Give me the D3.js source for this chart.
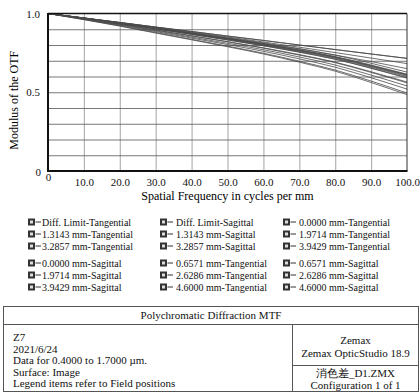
<!DOCTYPE html>
<html>
<head>
<meta charset="utf-8">
<script src="https://cdn.jsdelivr.net/npm/d3@7"></script>
<style>
  body { margin: 0; background: #fff; }
  svg text { font-family: "Liberation Serif", "DejaVu Serif", serif; }
  .grid-x line { stroke: #b4b4b4; stroke-width: 1.2; }
  .grid-y line { stroke: #555; stroke-width: 0.8; }
  .axis text { font-size: 11px; fill: #111; }
  .legend text { font-size: 10px; fill: #111; }
  .box text { font-size: 11px; fill: #111; }
</style>
</head>
<body>
<div id="chart"></div>
<script>
// spatial frequency samples (cycles per mm)
const freq = [0, 10, 20, 30, 40, 50, 60, 70, 80, 90, 100];
const xTicks = [0, 10, 20, 30, 40, 50, 60, 70, 80, 90, 100];
const yTicks = [0, 0.5, 1.0];

// MTF values
const diffLimitT = [1, .971, .943, .914, .886, .857, .829, .800, .771, .743, .715];
const diffLimitS = [1, .971, .943, .914, .886, .857, .829, .800, .771, .743, .715];
const f0000T = [1, .971, .940, .906, .873, .840, .805, .766, .723, .668, .610];
const f0000S = [1, .971, .940, .907, .874, .841, .806, .767, .724, .669, .612];
const f0657T = [1, .970, .939, .905, .872, .838, .802, .763, .720, .664, .605];
const f0657S = [1, .971, .940, .908, .875, .842, .807, .769, .727, .673, .615];
const f1314T = [1, .969, .937, .902, .868, .833, .796, .756, .711, .654, .593];
const f1314S = [1, .972, .942, .911, .879, .847, .814, .777, .736, .684, .628];
const f1971T = [1, .967, .933, .896, .859, .822, .782, .739, .691, .630, .565];
const f1971S = [1, .971, .940, .908, .876, .843, .810, .775, .736, .695, .650];
const f2629T = [1, .966, .929, .890, .850, .811, .770, .724, .673, .609, .540];
const f2629S = [1, .972, .943, .913, .882, .851, .819, .786, .752, .717, .682];
const f3286T = [1, .964, .926, .885, .844, .803, .760, .712, .659, .592, .520];
const f3286S = [1, .970, .938, .904, .870, .836, .800, .760, .716, .660, .600];
const f3943T = [1, .962, .922, .879, .836, .793, .748, .697, .641, .571, .495];
const f3943S = [1, .969, .936, .902, .867, .832, .795, .754, .709, .652, .590];
const f4600T = [1, .961, .920, .876, .833, .789, .743, .691, .634, .562, .485];
const f4600S = [1, .967, .932, .894, .857, .820, .780, .736, .688, .626, .560];

const seriesNames = [
  'Diff. Limit-Tangential', 'Diff. Limit-Sagittal', '0.0000 mm-Tangential',
  '1.3143 mm-Tangential', '1.3143 mm-Sagittal', '1.9714 mm-Tangential',
  '3.2857 mm-Tangential', '3.2857 mm-Sagittal', '3.9429 mm-Tangential',
  '0.0000 mm-Sagittal', '0.6571 mm-Tangential', '0.6571 mm-Sagittal',
  '1.9714 mm-Sagittal', '2.6286 mm-Tangential', '2.6286 mm-Sagittal',
  '3.9429 mm-Sagittal', '4.6000 mm-Tangential', '4.6000 mm-Sagittal'
];
const seriesValues = [
  diffLimitT, diffLimitS, f0000T,
  f1314T, f1314S, f1971T,
  f3286T, f3286S, f3943T,
  f0000S, f0657T, f0657S,
  f1971S, f2629T, f2629S,
  f3943S, f4600T, f4600S
];

const infoLeft = ['Z7', '2021/6/24', 'Data for 0.4000 to 1.7000 \u00b5m.', 'Surface: Image', 'Legend items refer to Field positions'];
const infoRightTop = ['Zemax', 'Zemax OpticStudio 18.9'];
const infoRightBottom = ['\u6d88\u8272\u5dee_D1.ZMX', 'Configuration 1 of 1'];
const title = 'Polychromatic Diffraction MTF';

const W = 420, H = 392;
const margin = {left: 48, right: 13, top: 13.5, bottom: 221};
const svg = d3.select('#chart').append('svg').attr('width', W).attr('height', H);

const x = d3.scaleLinear().domain([0, 100]).range([margin.left, W - margin.right]);
const y = d3.scaleLinear().domain([0, 1]).range([H - margin.bottom, margin.top]);
const plotH = y(0) - y(1), plotW = x(100) - x(0);

// grid
svg.append('g').attr('class', 'grid-x')
  .attr('transform', `translate(0,${y(0)})`)
  .call(d3.axisBottom(x).tickValues(xTicks.slice(1, -1)).tickSize(-plotH).tickFormat(''))
  .call(g => g.select('.domain').remove());
svg.append('g').attr('class', 'grid-y')
  .attr('transform', `translate(${x(0)},0)`)
  .call(d3.axisLeft(y).ticks(10).tickSize(-plotW).tickFormat(''))
  .call(g => g.select('.domain').remove())
  .call(g => g.selectAll('.tick').filter(d => d === 0 || d === 1).remove());

// curves
const line = d3.line().x((d, i) => x(freq[i])).y(d => y(d)).curve(d3.curveMonotoneX);
svg.append('g').selectAll('path').data(seriesValues).join('path')
  .attr('d', line)
  .attr('fill', 'none')
  .attr('stroke', '#4a4a4a')
  .attr('stroke-width', 0.8);

// frame
svg.append('line').attr('x1', x(0)).attr('x2', x(100)).attr('y1', y(1)).attr('y2', y(1))
  .attr('stroke', '#111').attr('stroke-width', 1.3);
svg.append('line').attr('x1', x(100)).attr('x2', x(100)).attr('y1', y(1)).attr('y2', y(0))
  .attr('stroke', '#333').attr('stroke-width', 1);
svg.append('line').attr('x1', x(0)).attr('x2', x(0)).attr('y1', y(1) - 0.5).attr('y2', y(0) + 1)
  .attr('stroke', '#111').attr('stroke-width', 2);
svg.append('line').attr('x1', x(0) - 1).attr('x2', x(100) + 0.5).attr('y1', y(0)).attr('y2', y(0))
  .attr('stroke', '#111').attr('stroke-width', 2);

// axes labels
const xAxis = svg.append('g').attr('class', 'axis')
  .attr('transform', `translate(0,${y(0)})`)
  .call(d3.axisBottom(x).tickValues(xTicks).tickSize(0).tickPadding(7)
    .tickFormat(d => d === 0 ? '0' : d.toFixed(1)));
xAxis.select('.domain').remove();
xAxis.selectAll('.tick').filter(d => d === 0).select('text').attr('y', 2);

const yAxis = svg.append('g').attr('class', 'axis')
  .attr('transform', `translate(${x(0)},0)`)
  .call(d3.axisLeft(y).tickValues(yTicks).tickSize(0).tickPadding(8)
    .tickFormat(d => d === 0 ? '0' : d.toFixed(1)));
yAxis.select('.domain').remove();
yAxis.selectAll('.tick').filter(d => d === 0).select('text').attr('x', -7).attr('dy', '0.45em');

svg.append('text').attr('x', (x(0) + x(100)) / 2).attr('y', 200)
  .attr('text-anchor', 'middle').style('font-size', '12px').text('Spatial Frequency in cycles per mm');
svg.append('text').attr('transform', `translate(18,${(y(0) + y(1)) / 2 + 8}) rotate(-90)`)
  .attr('text-anchor', 'middle').style('font-size', '12px').text('Modulus of the OTF');

// legend
const colX = [28, 160, 283];
const rowY = [222, 234, 246, 263, 275, 287];
const legend = svg.append('g').attr('class', 'legend');
seriesNames.forEach((name, i) => {
  const cx = colX[i % 3], cy = rowY[Math.floor(i / 3)];
  const g = legend.append('g').attr('transform', `translate(${cx},${cy})`);
  g.append('rect').attr('x', 0).attr('y', -3.5).attr('width', 7).attr('height', 7).attr('fill', '#333');
  g.append('rect').attr('x', 2).attr('y', -1.5).attr('width', 3).attr('height', 3).attr('fill', '#ddd');
  g.append('line').attr('x1', 7.5).attr('x2', 13).attr('y1', 0).attr('y2', 0).attr('stroke', '#333').attr('stroke-width', 1);
  g.append('text').attr('x', i % 3 === 0 ? 14 : 16).attr('y', 3.5).text(name);
});

// info box
const box = svg.append('g').attr('class', 'box');
const bx0 = 3.5, bx1 = 418.5, by0 = 306.5, by1 = 391.5, divX = 292.5, titleY = 324.5, rightDivY = 365.5;
box.append('rect').attr('x', bx0).attr('y', by0).attr('width', bx1 - bx0).attr('height', by1 - by0)
  .attr('fill', 'none').attr('stroke', '#555').attr('stroke-width', 1);
box.append('line').attr('x1', bx0).attr('x2', bx1).attr('y1', titleY).attr('y2', titleY).attr('stroke', '#555');
box.append('line').attr('x1', divX).attr('x2', divX).attr('y1', titleY).attr('y2', by1).attr('stroke', '#555');
box.append('line').attr('x1', divX).attr('x2', bx1).attr('y1', rightDivY).attr('y2', rightDivY).attr('stroke', '#555');
box.append('text').attr('x', (bx0 + bx1) / 2).attr('y', 319).attr('text-anchor', 'middle').text(title);
infoLeft.forEach((t, i) => {
  box.append('text').attr('x', 13).attr('y', 341 + i * 11.6).text(t);
});
infoRightTop.forEach((t, i) => {
  box.append('text').attr('x', (divX + bx1) / 2).attr('y', 344 + i * 13).attr('text-anchor', 'middle').text(t);
});
infoRightBottom.forEach((t, i) => {
  box.append('text').attr('x', (divX + bx1) / 2).attr('y', 377 + i * 11.5).attr('text-anchor', 'middle').text(t);
});
</script>
</body>
</html>
